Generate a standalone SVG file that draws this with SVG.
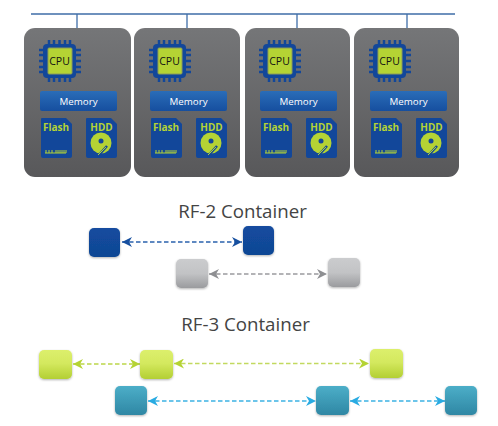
<svg xmlns="http://www.w3.org/2000/svg" width="498" height="426" viewBox="0 0 498 426">
<style>
.title{font-family:"Open Sans","Liberation Sans",sans-serif;font-size:18.7px;fill:#444;text-anchor:middle}
.cpu{font-family:"Open Sans","Liberation Sans",sans-serif;font-size:10.5px;fill:#111;text-anchor:middle}
.mem{font-family:"Open Sans","Liberation Sans",sans-serif;font-size:9.8px;fill:#fff;text-anchor:middle}
.lab{font-family:"Open Sans","Liberation Sans",sans-serif;font-size:10px;font-weight:700;fill:#b5d334;text-anchor:middle}
.bus{stroke:#3f6ea8;stroke-width:1.3;fill:none}
.ln{fill:none;stroke-width:1.4;stroke-dasharray:4.5 2.5}
.box{filter:url(#sh)}
.leg{stroke:#12479a;stroke-width:2.5;fill:none}
</style>
<defs>
<linearGradient id="gs" x1="0" y1="0" x2="0" y2="1"><stop offset="0" stop-color="#757678"/><stop offset="1" stop-color="#58585a"/></linearGradient>
<linearGradient id="gm" x1="0" y1="0" x2="0" y2="1"><stop offset="0" stop-color="#2a6db8"/><stop offset="1" stop-color="#164f9f"/></linearGradient>
<linearGradient id="gb" x1="0" y1="0" x2="0" y2="1"><stop offset="0" stop-color="#134c9f"/><stop offset="1" stop-color="#104694"/></linearGradient>
<linearGradient id="gy" x1="0" y1="0" x2="0" y2="1"><stop offset="0" stop-color="#cbccce"/><stop offset="0.5" stop-color="#c2c3c5"/><stop offset="1" stop-color="#9a9b9e"/></linearGradient>
<linearGradient id="gg" x1="0" y1="0" x2="0" y2="1"><stop offset="0" stop-color="#dcef6c"/><stop offset="0.45" stop-color="#d4e95f"/><stop offset="1" stop-color="#b3cf33"/></linearGradient>
<linearGradient id="gt" x1="0" y1="0" x2="0" y2="1"><stop offset="0" stop-color="#4caec8"/><stop offset="1" stop-color="#2f87a4"/></linearGradient>
<filter id="sh" x="-20%" y="-20%" width="140%" height="140%"><feDropShadow dx="0" dy="1" stdDeviation="1" flood-color="#000" flood-opacity="0.3"/></filter>
<marker id="ab" viewBox="0 -5 10 10" refX="10" refY="0" markerUnits="userSpaceOnUse" markerWidth="10" markerHeight="10" orient="auto-start-reverse"><path d="M0,-5 L10,0 L0,5 L3,0z" fill="#164f9f"/></marker>
<marker id="ay" viewBox="0 -5 10 10" refX="10" refY="0" markerUnits="userSpaceOnUse" markerWidth="10" markerHeight="10" orient="auto-start-reverse"><path d="M0,-5 L10,0 L0,5 L3,0z" fill="#8e8f92"/></marker>
<marker id="ag" viewBox="0 -5 10 10" refX="10" refY="0" markerUnits="userSpaceOnUse" markerWidth="10" markerHeight="10" orient="auto-start-reverse"><path d="M0,-5 L10,0 L0,5 L3,0z" fill="#b5d334"/></marker>
<marker id="at" viewBox="0 -5 10 10" refX="10" refY="0" markerUnits="userSpaceOnUse" markerWidth="10" markerHeight="10" orient="auto-start-reverse"><path d="M0,-5 L10,0 L0,5 L3,0z" fill="#29abe2"/></marker>
<g id="icons">
<path class="leg" d="M49,40v42M54,40v42M59.500,40v42M65,40v42M70,40v42M39,50h42M39,55h42M39,61h42M39,67h42M39,72h42"/>
<rect x="43" y="44" width="33" height="34" rx="4" fill="#12479a"/>
<rect x="48" y="48" width="24" height="26" rx="1" fill="#b5d334" stroke="#8b9a5a" stroke-width="1"/>
<rect x="40" y="91" width="77" height="20" rx="2" fill="url(#gm)"/>
<path d="M42,118H66L72,124V156a2,2 0 0 1-2,2H43a2,2 0 0 1-2-2V119a1,1 0 0 1 1-1z" fill="#12479a"/>
<path d="M45,153h21M46,150v3M49,150v3M52,150v3M56,150v3M58,150v3M60,150v3M62,150v3M64,150v3M66,150v3" stroke="#b5d334" stroke-width="1" fill="none"/>
<path d="M87,118H111L117,124V156a2,2 0 0 1-2,2H88a2,2 0 0 1-2-2V119a1,1 0 0 1 1-1z" fill="#12479a"/>
<circle cx="101" cy="143" r="10.500" fill="#b5d334"/>
<circle cx="101" cy="141" r="2.500" fill="#12479a"/>
<path d="M98,156L107,146" stroke="#12479a" stroke-width="2.500" fill="none"/>
<path d="M98,155L106,147" stroke="#b5d334" stroke-width="1" fill="none"/>
</g>
</defs>
<g id="connectors">
<path class="bus" d="M31,14H455M77,14V28M187,14V28M297,14V28M407,14V28"/>
<path class="ln" stroke="#2a62ad" marker-start="url(#ab)" marker-end="url(#ab)" d="M122,242H242"/>
<path class="ln" stroke="#9a9b9e" marker-start="url(#ay)" marker-end="url(#ay)" d="M209,274H327"/>
<path class="ln" stroke="#bcd64a" marker-start="url(#ag)" marker-end="url(#ag)" d="M73,364H140"/>
<path class="ln" stroke="#c2d95f" marker-start="url(#ag)" marker-end="url(#ag)" d="M174,363.500H369"/>
<path class="ln" stroke="#3db2e4" marker-start="url(#at)" marker-end="url(#at)" d="M148,401H316"/>
<path class="ln" stroke="#3db2e4" marker-start="url(#at)" marker-end="url(#at)" d="M350,401H445"/>
</g>
<g id="server-1"><rect x="24" y="28" width="107" height="149" rx="11" fill="url(#gs)"/><use href="#icons"/><text class="cpu" x="59.500" y="65">CPU</text><text class="mem" x="78.500" y="105">Memory</text><text class="lab" x="56" y="131">Flash</text><text class="lab" x="101.500" y="131">HDD</text></g>
<g id="server-2"><rect x="134" y="28" width="106" height="149" rx="11" fill="url(#gs)"/><use href="#icons" x="110"/><text class="cpu" x="169.500" y="65">CPU</text><text class="mem" x="188.500" y="105">Memory</text><text class="lab" x="166" y="131">Flash</text><text class="lab" x="211.500" y="131">HDD</text></g>
<g id="server-3"><rect x="245" y="28" width="105" height="149" rx="11" fill="url(#gs)"/><use href="#icons" x="220"/><text class="cpu" x="279.500" y="65">CPU</text><text class="mem" x="298.500" y="105">Memory</text><text class="lab" x="276" y="131">Flash</text><text class="lab" x="321.500" y="131">HDD</text></g>
<g id="server-4"><rect x="354" y="28" width="105" height="149" rx="11" fill="url(#gs)"/><use href="#icons" x="330"/><text class="cpu" x="389.500" y="65">CPU</text><text class="mem" x="408.500" y="105">Memory</text><text class="lab" x="386" y="131">Flash</text><text class="lab" x="431.500" y="131">HDD</text></g>
<text class="title" x="242.500" y="218">RF-2 Container</text>
<text class="title" x="245.500" y="331">RF-3 Container</text>
<g id="blue-1"><rect class="box" x="89" y="228" width="31" height="29" rx="5" fill="url(#gb)"/></g>
<g id="blue-2"><rect class="box" x="243" y="226" width="31" height="29" rx="5" fill="url(#gb)"/></g>
<g id="grey-1"><rect class="box" x="176" y="259" width="32" height="29" rx="5" fill="url(#gy)"/></g>
<g id="grey-2"><rect class="box" x="328" y="258" width="32" height="29" rx="5" fill="url(#gy)"/></g>
<g id="green-1"><rect class="box" x="39" y="350" width="33" height="29" rx="5" fill="url(#gg)"/></g>
<g id="green-2"><rect class="box" x="140" y="350" width="33" height="29" rx="5" fill="url(#gg)"/></g>
<g id="green-3"><rect class="box" x="370" y="349" width="33" height="29" rx="5" fill="url(#gg)"/></g>
<g id="teal-1"><rect class="box" x="115" y="386" width="32" height="29" rx="5" fill="url(#gt)"/></g>
<g id="teal-2"><rect class="box" x="316" y="386" width="33" height="29" rx="5" fill="url(#gt)"/></g>
<g id="teal-3"><rect class="box" x="445" y="386" width="32" height="29" rx="5" fill="url(#gt)"/></g>
</svg>
